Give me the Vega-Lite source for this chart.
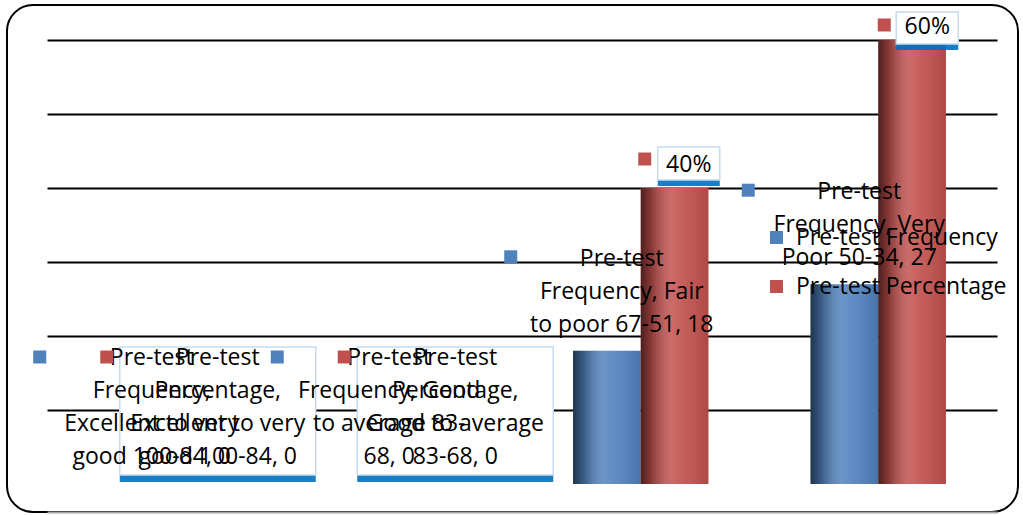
{
  "$schema": "https://vega.github.io/schema/vega-lite/v6.json",
  "width": 1011,
  "height": 507,
  "autosize": {"type": "none"},
  "padding": {"left": 7, "top": 5, "right": 5, "bottom": 3},
  "background": "white",
  "data": {
    "values": [
      {"category": "Excellent to very good 100-84", "series": "Pre-test Frequency", "value": 0, "label": "Pre-test\nFrequency,\nExcellent to very\ngood 100-84, 0"},
      {"category": "Excellent to very good 100-84", "series": "Pre-test Percentage", "value": 0, "label": "Pre-test\nPercentage,\nExcellent to very\ngood 100-84, 0"},
      {"category": "Good to average 83-68", "series": "Pre-test Frequency", "value": 0, "label": "Pre-test\nFrequency, Good\nto average 83-\n68, 0"},
      {"category": "Good to average 83-68", "series": "Pre-test Percentage", "value": 0, "label": "Pre-test\nPercentage,\nGood to average\n83-68, 0"},
      {"category": "Fair to poor 67-51", "series": "Pre-test Frequency", "value": 18, "label": "Pre-test\nFrequency, Fair\nto poor 67-51, 18"},
      {"category": "Fair to poor 67-51", "series": "Pre-test Percentage", "value": 40, "label": "40%"},
      {"category": "Very Poor 50-34", "series": "Pre-test Frequency", "value": 27, "label": "Pre-test\nFrequency, Very\nPoor 50-34, 27"},
      {"category": "Very Poor 50-34", "series": "Pre-test Percentage", "value": 60, "label": "60%"}
    ]
  },
  "encoding": {
    "x": {
      "field": "category", "type": "nominal", "sort": null,
      "scale": {"range": [40, 990], "paddingInner": 0.43, "paddingOuter": 0.215},
      "axis": {"title": null, "labels": false, "ticks": false, "domain": true, "domainColor": "#a6a6a6", "domainWidth": 2, "grid": false}
    },
    "y": {
      "field": "value", "type": "quantitative",
      "scale": {"domain": [0, 60], "range": [479, 35], "nice": false, "zero": true},
      "axis": {"title": null, "labels": false, "ticks": false, "domain": false, "grid": true, "gridColor": "black", "gridWidth": 2, "values": [10, 20, 30, 40, 50, 60]}
    }
  },
  "layer": [
    {
      "mark": {"type": "bar"},
      "encoding": {
        "xOffset": {"field": "series", "type": "nominal", "sort": null},
        "color": {
          "field": "series", "type": "nominal", "sort": null,
          "scale": {"domain": ["Pre-test Frequency", "Pre-test Percentage"], "range": ["#4F81BD", "#C0504D"]},
          "legend": {"title": null, "orient": "none", "legendX": 758, "legendY": 221, "padding": 0, "symbolType": "square", "symbolSize": 169, "symbolStrokeWidth": 0, "labelFont": "Open Sans", "labelFontSize": 23, "labelColor": "black", "labelOffset": 8, "rowPadding": 25, "labelLimit": 400}
        }
      }
    },
    {
      "mark": {
        "type": "bar",
        "fill": {"gradient": "linear", "x1": 0, "y1": 0, "x2": 1, "y2": 0,
          "stops": [
            {"offset": 0, "color": "rgba(0,0,0,0.6)"},
            {"offset": 0.15, "color": "rgba(0,0,0,0.3)"},
            {"offset": 0.45, "color": "rgba(255,255,255,0.16)"},
            {"offset": 0.65, "color": "rgba(255,255,255,0.08)"},
            {"offset": 1, "color": "rgba(0,0,0,0.1)"}
          ]}
      },
      "encoding": {"xOffset": {"field": "series", "type": "nominal", "sort": null}}
    },
    {
      "transform": [{"filter": "datum.series == 'Pre-test Percentage' && datum.value == 0"}],
      "mark": {"type": "bar", "width": 196, "fill": "#0070C0", "opacity": 0.9, "xOffset": 52, "x2Offset": 52, "yOffset": -20, "y2Offset": -2},
      "encoding": {"y2": {"field": "value"}}
    },
    {
      "transform": [{"filter": "datum.series == 'Pre-test Percentage' && datum.value == 0"}],
      "mark": {"type": "bar", "width": 196, "fill": "white", "stroke": "#c5dcf0", "strokeWidth": 1.5, "xOffset": 52, "x2Offset": 52, "yOffset": -137, "y2Offset": -9},
      "encoding": {"y2": {"field": "value"}}
    },
    {
      "transform": [{"filter": "datum.series == 'Pre-test Percentage' && datum.value > 0 && datum.value < 50"}],
      "mark": {"type": "bar", "width": 62, "fill": "#0070C0", "opacity": 0.9, "xOffset": 48, "x2Offset": 48, "yOffset": -12, "y2Offset": -2},
      "encoding": {"y2": {"field": "value"}}
    },
    {
      "transform": [{"filter": "datum.series == 'Pre-test Percentage' && datum.value > 0 && datum.value < 50"}],
      "mark": {"type": "bar", "width": 62, "fill": "white", "stroke": "#c5dcf0", "strokeWidth": 1.5, "xOffset": 48, "x2Offset": 48, "yOffset": -41, "y2Offset": -8},
      "encoding": {"y2": {"field": "value"}}
    },
    {
      "transform": [{"filter": "datum.series == 'Pre-test Percentage' && datum.value >= 50"}],
      "mark": {"type": "bar", "width": 62, "fill": "#0070C0", "opacity": 0.9, "xOffset": 49, "x2Offset": 49, "yOffset": 1, "y2Offset": 10},
      "encoding": {"y2": {"field": "value"}}
    },
    {
      "transform": [{"filter": "datum.series == 'Pre-test Percentage' && datum.value >= 50"}],
      "mark": {"type": "bar", "width": 62, "fill": "white", "stroke": "#c5dcf0", "strokeWidth": 1.5, "xOffset": 49, "x2Offset": 49, "yOffset": -28, "y2Offset": 4},
      "encoding": {"y2": {"field": "value"}}
    },
    {
      "transform": [{"filter": "datum.series == 'Pre-test Frequency' && datum.value == 0"}],
      "mark": {"type": "text", "font": "Open Sans", "fontSize": 23, "lineHeight": 33, "lineBreak": "\n", "align": "center", "baseline": "middle", "dx": -14, "dy": -126, "color": "black"},
      "encoding": {"text": {"field": "label"}}
    },
    {
      "transform": [{"filter": "datum.series == 'Pre-test Frequency' && datum.value > 0"}],
      "mark": {"type": "text", "font": "Open Sans", "fontSize": 23, "lineHeight": 33, "lineBreak": "\n", "align": "center", "baseline": "middle", "dx": -19, "dy": -92, "color": "black"},
      "encoding": {"text": {"field": "label"}}
    },
    {
      "transform": [{"filter": "datum.series == 'Pre-test Percentage' && datum.value == 0"}],
      "mark": {"type": "text", "font": "Open Sans", "fontSize": 23, "lineHeight": 33, "lineBreak": "\n", "align": "center", "baseline": "middle", "dx": 52, "dy": -126, "color": "black"},
      "encoding": {"text": {"field": "label"}}
    },
    {
      "transform": [{"filter": "datum.series == 'Pre-test Percentage' && datum.value > 0 && datum.value < 50"}],
      "mark": {"type": "text", "font": "Open Sans", "fontSize": 23, "align": "center", "baseline": "middle", "dx": 48, "dy": -23, "color": "black"},
      "encoding": {"text": {"field": "label"}}
    },
    {
      "transform": [{"filter": "datum.series == 'Pre-test Percentage' && datum.value >= 50"}],
      "mark": {"type": "text", "font": "Open Sans", "fontSize": 23, "align": "center", "baseline": "middle", "dx": 49, "dy": -13, "color": "black"},
      "encoding": {"text": {"field": "label"}}
    },
    {
      "transform": [{"filter": "datum.series == 'Pre-test Frequency' && datum.value == 0"}],
      "mark": {"type": "point", "shape": "square", "filled": true, "size": 169, "opacity": 1, "color": "#4F81BD", "xOffset": -126, "yOffset": -127}
    },
    {
      "transform": [{"filter": "datum.series == 'Pre-test Frequency' && datum.value > 0"}],
      "mark": {"type": "point", "shape": "square", "filled": true, "size": 169, "opacity": 1, "color": "#4F81BD", "xOffset": -130, "yOffset": -94}
    },
    {
      "transform": [{"filter": "datum.series == 'Pre-test Percentage' && datum.value == 0"}],
      "mark": {"type": "point", "shape": "square", "filled": true, "size": 169, "opacity": 1, "color": "#C0504D", "xOffset": -59, "yOffset": -127}
    },
    {
      "transform": [{"filter": "datum.series == 'Pre-test Percentage' && datum.value > 0 && datum.value < 50"}],
      "mark": {"type": "point", "shape": "square", "filled": true, "size": 169, "opacity": 1, "color": "#C0504D", "xOffset": 4, "yOffset": -29}
    },
    {
      "transform": [{"filter": "datum.series == 'Pre-test Percentage' && datum.value >= 50"}],
      "mark": {"type": "point", "shape": "square", "filled": true, "size": 169, "opacity": 1, "color": "#C0504D", "xOffset": 6, "yOffset": -15}
    }
  ],
  "config": {
    "view": {"stroke": "black", "strokeWidth": 2, "cornerRadius": 26, "fill": "white"},
    "font": "Open Sans"
  }
}
